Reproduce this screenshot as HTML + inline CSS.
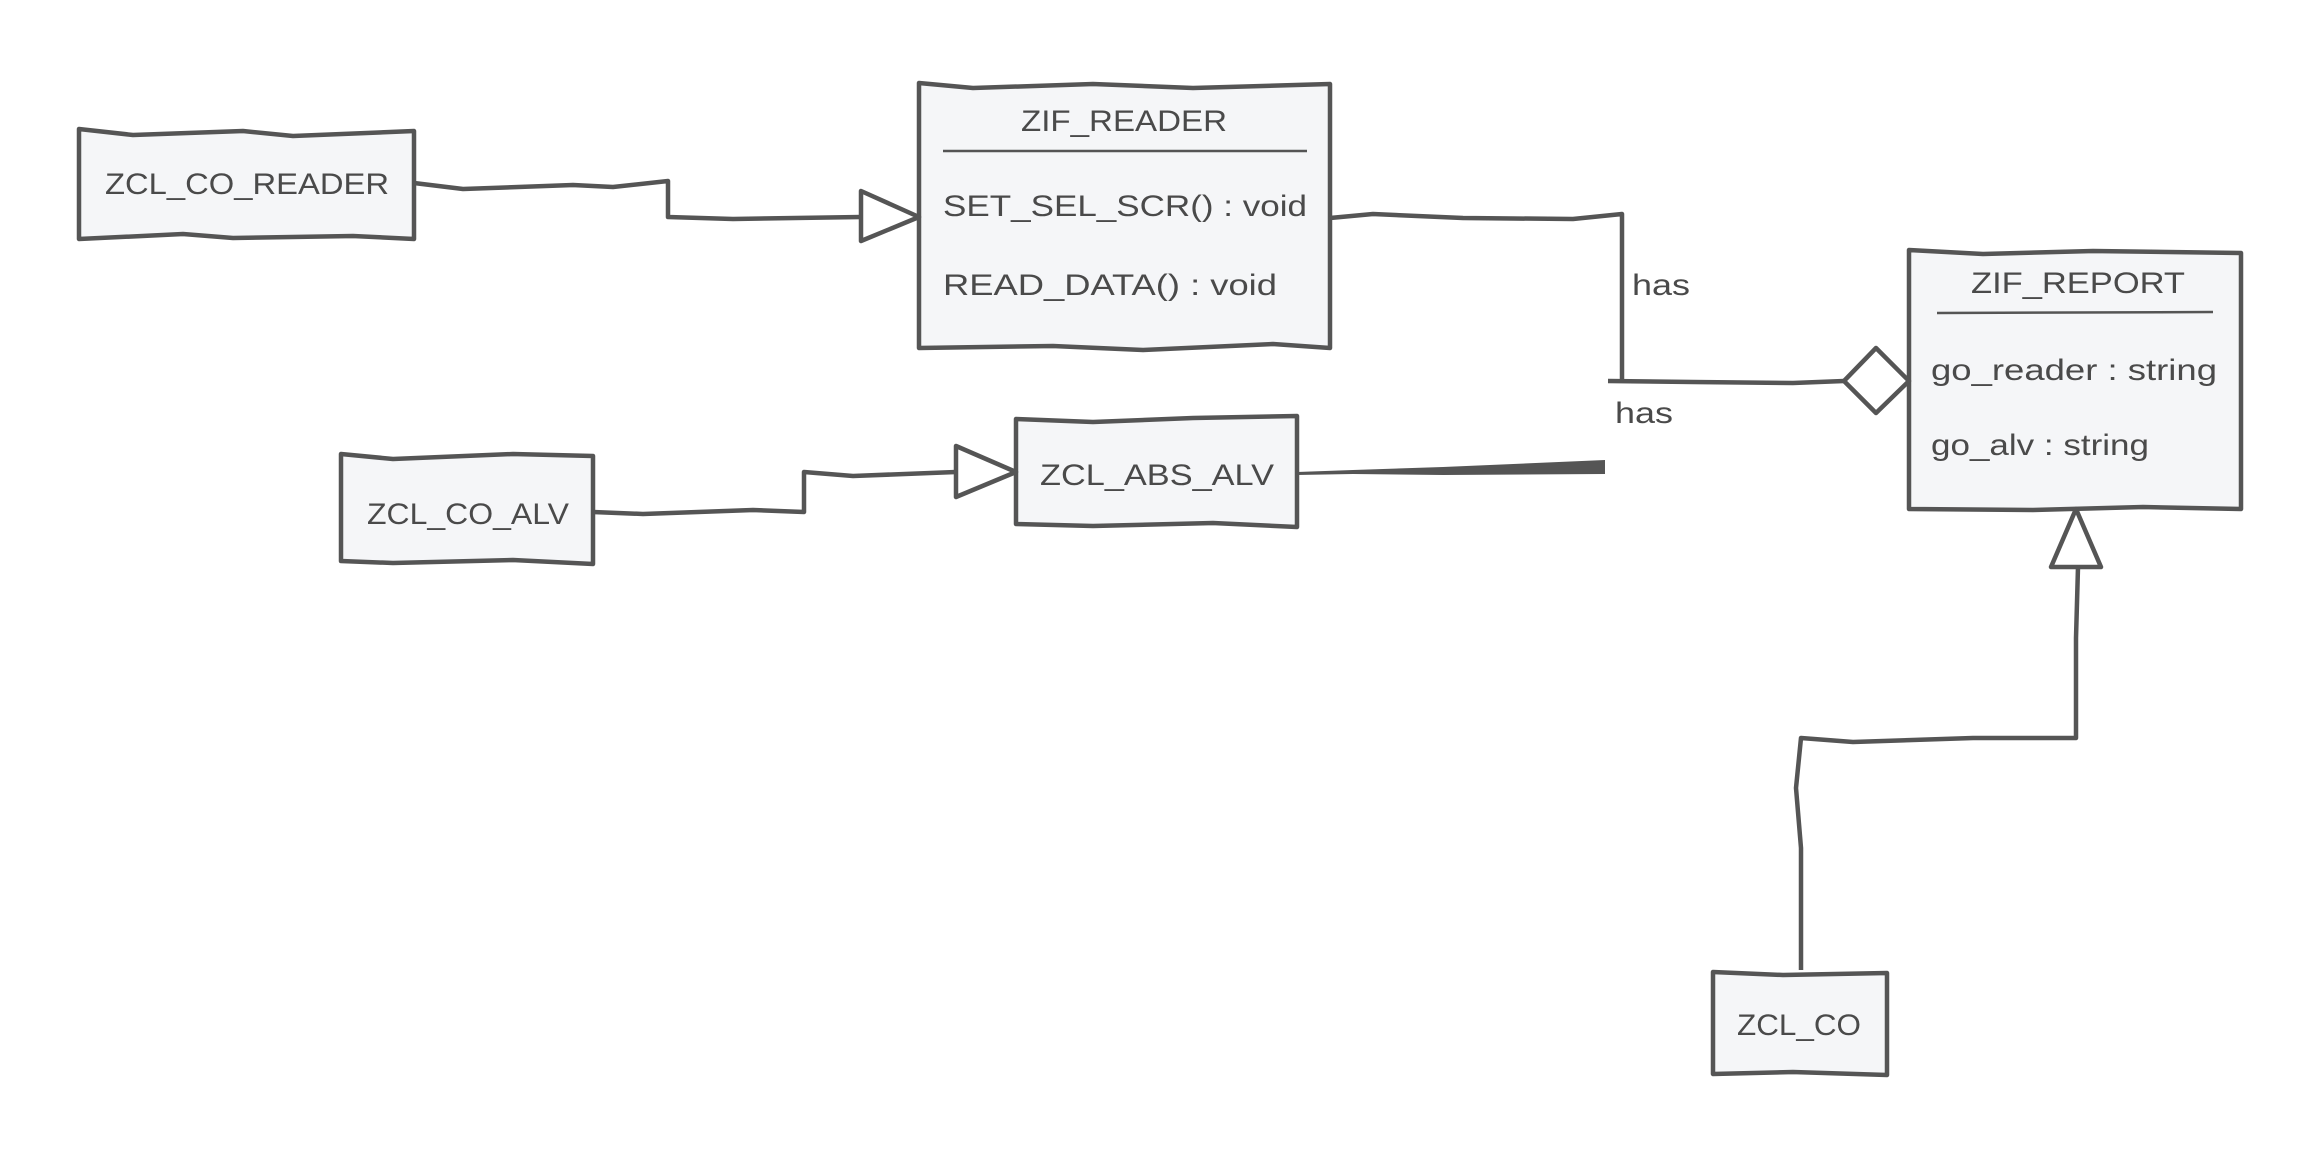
<!DOCTYPE html>
<html><head><meta charset="utf-8"><style>
html,body{margin:0;padding:0;background:#fff;width:2323px;height:1156px;overflow:hidden}
svg text{font-family:"Liberation Sans",sans-serif;fill:#4a4a4a}
</style></head><body>
<svg width="2323" height="1156" viewBox="0 0 2323 1156" xmlns="http://www.w3.org/2000/svg">
<g transform="translate(-7,-2)">
<g stroke="#555" stroke-width="4.5" fill="#f5f6f8" stroke-linejoin="round">
<path d="M86,131 L140,137 L250,133 L300,138 L421,133 L421,241 L360,238 L240,240 L190,236 L86,241 Z"/>
<path d="M926,85 L980,90 L1100,86 L1200,90 L1337,86 L1337,350 L1280,346 L1150,352 L1060,348 L926,350 Z"/>
<line x1="950" y1="153" x2="1314" y2="153" stroke-width="2.5"/>
<path d="M1916,252 L1990,256 L2100,253 L2248,255 L2248,511 L2150,509 L2040,512 L1916,511 Z"/>
<line x1="1944" y1="315" x2="2220" y2="314" stroke-width="2.5"/>
<path d="M348,456 L400,461 L520,456 L600,458 L600,566 L520,562 L400,565 L348,563 Z"/>
<path d="M1023,421 L1100,424 L1200,420 L1304,418 L1304,529 L1220,525 L1100,528 L1023,526 Z"/>
<path d="M1720,974 L1790,977 L1894,975 L1894,1077 L1800,1074 L1720,1076 Z"/>
</g>
<g stroke="#555" stroke-width="4.5" fill="none" stroke-linejoin="round">
<polyline points="421,185 470,191 580,187 620,189 675,183 675,219 740,221 868,219"/>
<polyline points="1337,220 1380,216 1470,220 1580,221 1629,216 1629,383"/>
<polyline points="1615,383 1700,384 1800,385 1851,383"/>
<polyline points="600,514 650,516 760,512 811,514 811,474 860,478 963,474"/>
<polyline points="1808,972 1808,850 1803,790 1808,740 1860,744 1980,740 2083,740 2083,640 2085,569"/>
</g>
<g stroke="#555" stroke-width="4.5" fill="#fff" stroke-linejoin="round">
<polygon points="868,193 926,219 868,243"/>
<polygon points="963,448 1023,474 963,499"/>
<polygon points="1851,383 1883,350 1916,383 1883,415"/>
<polygon points="2058,569 2083,511 2108,569"/>
</g>
<polygon points="1304,474 1360,472 1450,469 1612,462 1612,476 1450,477 1360,476 1304,477" fill="#555"/>
<g font-size="30">
<text x="112" y="196" textLength="284" lengthAdjust="spacingAndGlyphs">ZCL_CO_READER</text>
<text x="1028" y="133" textLength="206" lengthAdjust="spacingAndGlyphs">ZIF_READER</text>
<text x="950" y="218" textLength="364" lengthAdjust="spacingAndGlyphs">SET_SEL_SCR() : void</text>
<text x="950" y="297" textLength="334" lengthAdjust="spacingAndGlyphs">READ_DATA() : void</text>
<text x="1978" y="295" textLength="214" lengthAdjust="spacingAndGlyphs">ZIF_REPORT</text>
<text x="1938" y="382" textLength="286" lengthAdjust="spacingAndGlyphs">go_reader : string</text>
<text x="1938" y="457" textLength="218" lengthAdjust="spacingAndGlyphs">go_alv : string</text>
<text x="374" y="526" textLength="202" lengthAdjust="spacingAndGlyphs">ZCL_CO_ALV</text>
<text x="1047" y="487" textLength="234" lengthAdjust="spacingAndGlyphs">ZCL_ABS_ALV</text>
<text x="1744" y="1037" textLength="124" lengthAdjust="spacingAndGlyphs">ZCL_CO</text>
<text x="1639" y="297" textLength="58" lengthAdjust="spacingAndGlyphs">has</text>
<text x="1622" y="425" textLength="58" lengthAdjust="spacingAndGlyphs">has</text>
</g>
</g>
</svg>
</body></html>
